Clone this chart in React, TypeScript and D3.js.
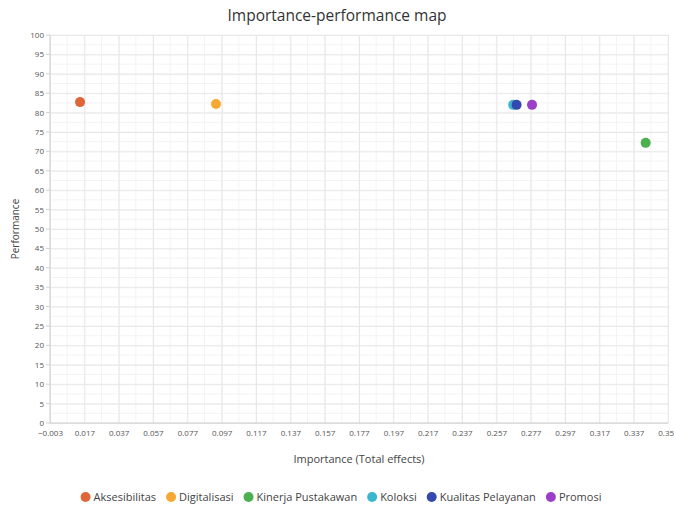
import React, { useEffect, useRef } from "react";
import * as d3 from "d3";

const categories = [
  "Aksesibilitas",
  "Digitalisasi",
  "Kinerja Pustakawan",
  "Koloksi",
  "Kualitas Pelayanan",
  "Promosi",
];
const importance = [0.0145, 0.0937, 0.344, 0.2668, 0.2688, 0.2778];
const performance = [82.7, 82.2, 72.2, 82.0, 82.0, 82.0];
const colors = ["#e0663a", "#f5a832", "#4caf50", "#3ab7cf", "#3548b0", "#9c3fc8"];
const xTicks = d3.range(0, 19).map((i) => -0.003 + i * 0.02);
const yTicks = d3.range(0, 21).map((i) => i * 5);

const App = () => {
  const ref = useRef<SVGSVGElement>(null);

  useEffect(() => {
    const width = 674;
    const height = 512;
    const margin = { top: 35, left: 50, bottom: 89, right: 6 };
    const svg = d3.select(ref.current);
    svg.selectAll("*").remove();
    const font = "'Open Sans', 'Noto Sans', sans-serif";

    const x = d3
      .scaleLinear()
      .domain([-0.003, 0.357])
      .range([margin.left, width - margin.right]);
    const y = d3
      .scaleLinear()
      .domain([0, 100])
      .range([height - margin.bottom, margin.top]);

    // minor grid
    const minorX = d3.range(0, 37).map((i) => -0.003 + i * 0.01);
    const minorY = d3.range(0, 41).map((i) => i * 2.5);
    const grid = svg.append("g");
    grid
      .selectAll("line.mx")
      .data(minorX)
      .enter()
      .append("line")
      .attr("x1", (d) => x(d))
      .attr("x2", (d) => x(d))
      .attr("y1", y(0))
      .attr("y2", y(100))
      .attr("stroke", "#f3f3f3");
    grid
      .selectAll("line.my")
      .data(minorY)
      .enter()
      .append("line")
      .attr("x1", x(-0.003))
      .attr("x2", x(0.357))
      .attr("y1", (d) => y(d))
      .attr("y2", (d) => y(d))
      .attr("stroke", "#f3f3f3");

    const xAxis = (g: any) =>
      g
        .attr("transform", `translate(0, ${y(0)})`)
        .call(
          d3
            .axisBottom(x)
            .tickValues(xTicks)
            .tickSize(-(y(0) - y(100)))
            .tickPadding(7)
            .tickFormat((d: any) => d3.format(".3f")(d))
        )
        .call((g: any) => g.select(".domain").remove())
        .call((g: any) => g.selectAll(".tick line").attr("stroke", "#e8e8e8"))
        .call((g: any) =>
          g.selectAll("text").attr("fill", "#555").attr("font-size", "8px").attr("font-family", font)
        );

    const yAxis = (g: any) =>
      g
        .attr("transform", `translate(${margin.left}, 0)`)
        .call(
          d3
            .axisLeft(y)
            .tickValues(yTicks)
            .tickSize(-(x(0.357) - x(-0.003)))
            .tickPadding(6)
        )
        .call((g: any) => g.select(".domain").remove())
        .call((g: any) => g.selectAll(".tick line").attr("stroke", "#e8e8e8"))
        .call((g: any) =>
          g.selectAll("text").attr("fill", "#555").attr("font-size", "8px").attr("font-family", font)
        );

    svg.append("g").call(xAxis);
    svg.append("g").call(yAxis);

    // axis lines and small ticks
    svg
      .append("line")
      .attr("x1", x(-0.003))
      .attr("x2", x(-0.003))
      .attr("y1", y(0))
      .attr("y2", y(100))
      .attr("stroke", "#d0d0d0");
    svg
      .append("line")
      .attr("x1", x(-0.003))
      .attr("x2", x(0.357))
      .attr("y1", y(0))
      .attr("y2", y(0))
      .attr("stroke", "#d0d0d0");
    svg
      .append("g")
      .selectAll("line")
      .data(yTicks)
      .enter()
      .append("line")
      .attr("x1", margin.left - 4)
      .attr("x2", margin.left)
      .attr("y1", (d) => y(d))
      .attr("y2", (d) => y(d))
      .attr("stroke", "#d0d0d0");

    // title & axis labels
    svg
      .append("text")
      .text("Importance-performance map")
      .attr("x", 337)
      .attr("y", 21)
      .attr("text-anchor", "middle")
      .attr("font-size", "15.5px")
      .attr("font-family", font)
      .attr("fill", "#333");
    svg
      .append("text")
      .text("Importance (Total effects)")
      .attr("x", (x(-0.003) + x(0.357)) / 2)
      .attr("y", 463)
      .attr("text-anchor", "middle")
      .attr("font-size", "11px")
      .attr("font-family", font)
      .attr("fill", "#444");
    svg
      .append("text")
      .text("Performance")
      .attr("transform", `translate(19, ${(y(0) + y(100)) / 2}) rotate(-90)`)
      .attr("text-anchor", "middle")
      .attr("font-size", "10px")
      .attr("font-family", font)
      .attr("fill", "#444");

    // points
    const data = categories.map((c, i) => ({
      name: c,
      x: importance[i],
      y: performance[i],
      color: colors[i],
    }));
    svg
      .append("g")
      .selectAll("circle")
      .data(data)
      .enter()
      .append("circle")
      .attr("cx", (d) => x(d.x))
      .attr("cy", (d) => y(d.y))
      .attr("r", 5)
      .attr("fill", (d) => d.color);

    // legend
    const legend = svg.append("g").attr("transform", "translate(0, 497)");
    const item = legend
      .selectAll("g")
      .data(data)
      .enter()
      .append("g");
    item
      .append("text")
      .text((d) => d.name)
      .attr("font-size", "11px")
      .attr("font-family", font)
      .attr("fill", "#444")
      .attr("dy", "0.35em");
    let widths: number[] = [];
    item.each(function () {
      const t = d3.select(this).select("text").node() as SVGTextElement;
      widths.push(t.getComputedTextLength());
    });
    const gap = 10;
    const total = d3.sum(widths) + widths.length * 13 + (widths.length - 1) * gap;
    let cx = 341 - total / 2;
    item.each(function (_d, i) {
      const g = d3.select(this);
      g.attr("transform", `translate(${cx}, 0)`);
      g.insert("circle", "text").attr("cx", 5).attr("r", 5).attr("fill", colors[i]);
      g.select("text").attr("x", 13);
      cx += widths[i] + 13 + gap;
    });
  }, []);

  return (
    <div style={{ position: "absolute", left: 0, top: 0 }}>
      <svg ref={ref} width={674} height={512} style={{ display: "block", background: "#fff" }} />
    </div>
  );
};

export default App;
